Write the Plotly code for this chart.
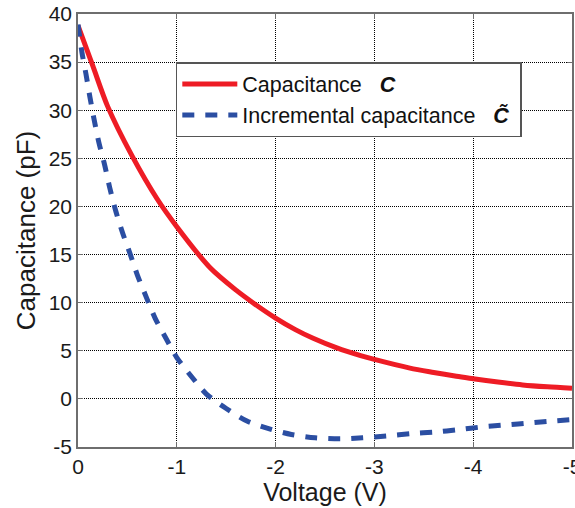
import plotly.graph_objects as go

# Capacitance C (red solid)
v_c = [0, -0.15, -0.30, -0.55, -0.80, -1.0, -1.34, -1.6, -1.77, -2.0, -2.2, -2.38, -2.62,
       -2.86, -3.0, -3.36, -3.6, -3.83, -4.0, -4.25, -4.5, -4.75, -5.0]
c_vals = [38.8, 34.6, 30.4, 25.2, 20.8, 17.9, 13.6, 11.3, 10.0, 8.4, 7.2, 6.3, 5.3,
          4.5, 4.1, 3.2, 2.75, 2.35, 2.1, 1.75, 1.45, 1.25, 1.1]

# Incremental capacitance C~ (blue dashed)
v_i = [0, -0.04, -0.08, -0.12, -0.16, -0.21, -0.27, -0.32, -0.38, -0.45, -0.53, -0.6, -0.69,
       -0.78, -0.89, -1.0, -1.15, -1.3, -1.5, -1.71, -1.93, -2.16, -2.4, -2.65, -2.88,
       -3.12, -3.38, -3.61, -3.85, -4.1, -4.34, -4.57, -4.8, -5.0]
i_vals = [38.9, 36.0, 33.8, 31.4, 29.2, 26.7, 24.3, 22.0, 19.6, 17.3, 15.0, 12.9, 10.6,
          8.4, 6.3, 4.3, 2.3, 0.5, -1.0, -2.3, -3.1, -3.7, -4.05, -4.15, -4.05,
          -3.85, -3.6, -3.45, -3.2, -2.9, -2.7, -2.5, -2.3, -2.15]

x_ticks = [0, -1, -2, -3, -4, -5]
x_tick_text = ["0", "-1", "-2", "-3", "-4", "-5"]
y_ticks = [40, 35, 30, 25, 20, 15, 10, 5, 0, -5]
y_tick_text = ["40", "35", "30", "25", "20", "15", "10", "5", "0", "-5"]

FONT = "Liberation Sans, Arial, sans-serif"
RED = "#EE1C25"
BLUE = "#2B4EA2"
TXT = "#1a1a1a"
SP = "\u00a0"

fig = go.Figure()
fig.add_trace(go.Scatter(
    x=v_c, y=c_vals, mode="lines", line=dict(color=RED, width=5, shape="spline", smoothing=0.8),
    name="Capacitance" + SP * 3 + "<b><i>C</i></b>"))
fig.add_trace(go.Scatter(
    x=v_i, y=i_vals, mode="lines",
    line=dict(color=BLUE, width=5, dash="12px,11px", shape="spline", smoothing=0.8),
    name="Incremental capacitance" + SP * 3 + "<b><i>C\u0303</i></b>" + SP))

axis_common = dict(
    showline=True, mirror="ticks", linecolor="#6e6e6e", linewidth=1.5,
    ticks="inside", ticklen=5, tickcolor="#6e6e6e",
    showgrid=True, gridcolor="#000000", gridwidth=1, griddash="1px,1px",
    zeroline=False, ticklabeloverflow="allow", automargin=False,
    tickfont=dict(family=FONT, size=21, color=TXT),
)

fig.update_xaxes(range=[0, -5], tickvals=x_ticks, ticktext=x_tick_text,
                 title=dict(text="Voltage (V)", font=dict(family=FONT, size=25, color=TXT),
                            standoff=4),
                 **axis_common)
fig.update_yaxes(range=[-5, 40], tickvals=y_ticks, ticktext=y_tick_text,
                 title=dict(text="Capacitance (pF)", font=dict(family=FONT, size=26, color=TXT),
                            standoff=6),
                 **axis_common)

fig.update_layout(
    width=575, height=508,
    margin=dict(l=78, r=3, t=14, b=61),
    paper_bgcolor="white", plot_bgcolor="white",
    font=dict(family=FONT, color=TXT),
    legend=dict(x=0.198, y=0.889, xanchor="left", yanchor="top",
                bgcolor="white", bordercolor="#555555", borderwidth=1.5,
                itemwidth=55,
                font=dict(family=FONT, size=21.5, color="#111111")),
)

fig.write_html("out.html")
